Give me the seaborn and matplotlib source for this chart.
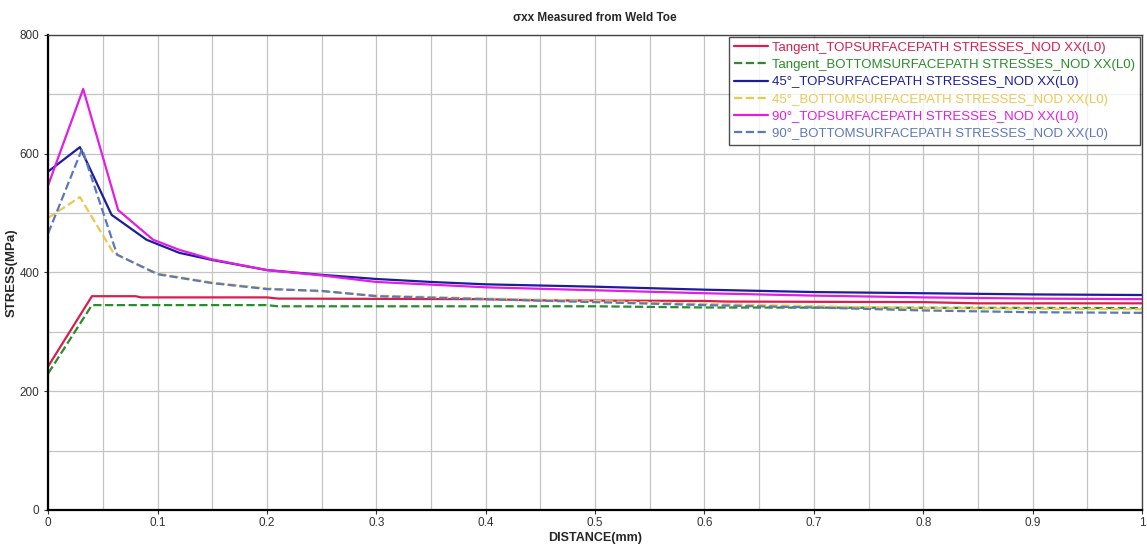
import matplotlib
matplotlib.use("Agg")
import matplotlib.pyplot as plt
import seaborn as sns
import numpy as np

# Path stresses (sigma_xx) along distance from the weld toe
tan_top_x = [0, 0.04, 0.08, 0.085, 0.20, 0.21, 0.40, 0.45, 0.60, 0.62, 0.80, 0.85, 1.0]
tan_top_y = [242, 360, 360, 358, 358, 356, 355, 353, 352, 351, 350, 348, 348]

tan_bot_x = [0, 0.04, 0.20, 0.21, 0.50, 0.60, 1.0]
tan_bot_y = [230, 345, 345, 343, 343, 341, 340]

top45_x = [0, 0.029, 0.058, 0.09, 0.12, 0.15, 0.2, 0.25, 0.3, 0.35, 0.4, 0.5, 0.6, 0.7, 0.8, 0.9, 1.0]
top45_y = [570, 611, 497, 455, 433, 421, 404, 396, 389, 384, 380, 376, 371, 367, 365, 363, 362]

bot45_x = [0, 0.029, 0.06, 0.1, 0.15, 0.2, 0.25, 0.3, 0.4, 0.5, 0.6, 0.7, 0.8, 0.9, 1.0]
bot45_y = [492, 527, 432, 398, 383, 373, 368, 361, 356, 352, 347, 343, 340, 339, 338]

top90_x = [0, 0.032, 0.064, 0.096, 0.12, 0.15, 0.2, 0.25, 0.3, 0.4, 0.5, 0.6, 0.7, 0.8, 0.9, 1.0]
top90_y = [547, 709, 505, 455, 438, 422, 404, 395, 384, 375, 370, 365, 361, 358, 356, 355]

bot90_x = [0, 0.031, 0.063, 0.1, 0.15, 0.2, 0.25, 0.3, 0.4, 0.5, 0.6, 0.7, 0.8, 0.9, 1.0]
bot90_y = [466, 608, 430, 397, 382, 372, 369, 360, 355, 350, 345, 341, 336, 333, 332]

labels = [
    "Tangent_TOPSURFACEPATH STRESSES_NOD XX(L0)",
    "Tangent_BOTTOMSURFACEPATH STRESSES_NOD XX(L0)",
    "45°_TOPSURFACEPATH STRESSES_NOD XX(L0)",
    "45°_BOTTOMSURFACEPATH STRESSES_NOD XX(L0)",
    "90°_TOPSURFACEPATH STRESSES_NOD XX(L0)",
    "90°_BOTTOMSURFACEPATH STRESSES_NOD XX(L0)",
]
x_ticks = [0, 0.1, 0.2, 0.3, 0.4, 0.5, 0.6, 0.7, 0.8, 0.9, 1]
x_tick_labels = ["0", "0.1", "0.2", "0.3", "0.4", "0.5", "0.6", "0.7", "0.8", "0.9", "1"]
y_ticks = [0, 200, 400, 600, 800]

series = [
    (tan_top_x, tan_top_y, "#d81e4e", "-"),
    (tan_bot_x, tan_bot_y, "#2a8c2a", "--"),
    (top45_x, top45_y, "#1c1c9c", "-"),
    (bot45_x, bot45_y, "#ecc850", "--"),
    (top90_x, top90_y, "#e21ee2", "-"),
    (bot90_x, bot90_y, "#5d78b8", "--"),
]

sns.set_theme(style="white")
plt.rcParams["font.family"] = ["Liberation Sans", "DejaVu Sans"]

fig, ax = plt.subplots(figsize=(11.47, 5.46), dpi=100)
fig.subplots_adjust(left=0.042, right=0.9956, top=0.936, bottom=0.066)

for (xs, ys, col, ls), lab in zip(series, labels):
    sns.lineplot(x=xs, y=ys, ax=ax, color=col, linestyle=ls, linewidth=1.6,
                 label=lab, estimator=None, sort=False)

ax.set_xlim(0, 1)
ax.set_ylim(0, 800)
ax.set_xticks(np.arange(0, 1.0001, 0.05), minor=True)
ax.set_yticks(np.arange(0, 801, 100), minor=True)
ax.set_xticks(x_ticks)
ax.set_xticklabels(x_tick_labels)
ax.set_yticks(y_ticks)
ax.grid(True, which="both", color="#c4c4c4", linewidth=0.9)
ax.tick_params(axis="both", which="major", labelsize=8.5, colors="#333333",
               length=3, width=0.8, direction="out", left=True, bottom=True)
ax.tick_params(axis="x", which="major", pad=2)
ax.tick_params(axis="both", which="minor", length=0)

for side in ["left", "bottom"]:
    ax.spines[side].set_color("black")
    ax.spines[side].set_linewidth(1.6)
for side in ["top", "right"]:
    ax.spines[side].set_color("#444444")
    ax.spines[side].set_linewidth(1.0)

ax.set_title("σxx Measured from Weld Toe", fontsize=8.5, fontweight="bold", pad=10)
ax.set_xlabel("DISTANCE(mm)", fontsize=9, fontweight="bold", labelpad=2)
ax.set_ylabel("STRESS(MPa)", fontsize=9.5, fontweight="bold", labelpad=1)

leg = ax.legend(loc="upper right", fontsize=9.5, frameon=True, fancybox=False,
                borderaxespad=0.15, handlelength=2.6, labelspacing=0.38,
                handletextpad=0.3, borderpad=0.35)
leg.get_frame().set_edgecolor("#222222")
leg.get_frame().set_linewidth(1.0)
for txt, (_, _, col, _) in zip(leg.get_texts(), series):
    txt.set_color(col)

fig.savefig("out.png", dpi=100)
